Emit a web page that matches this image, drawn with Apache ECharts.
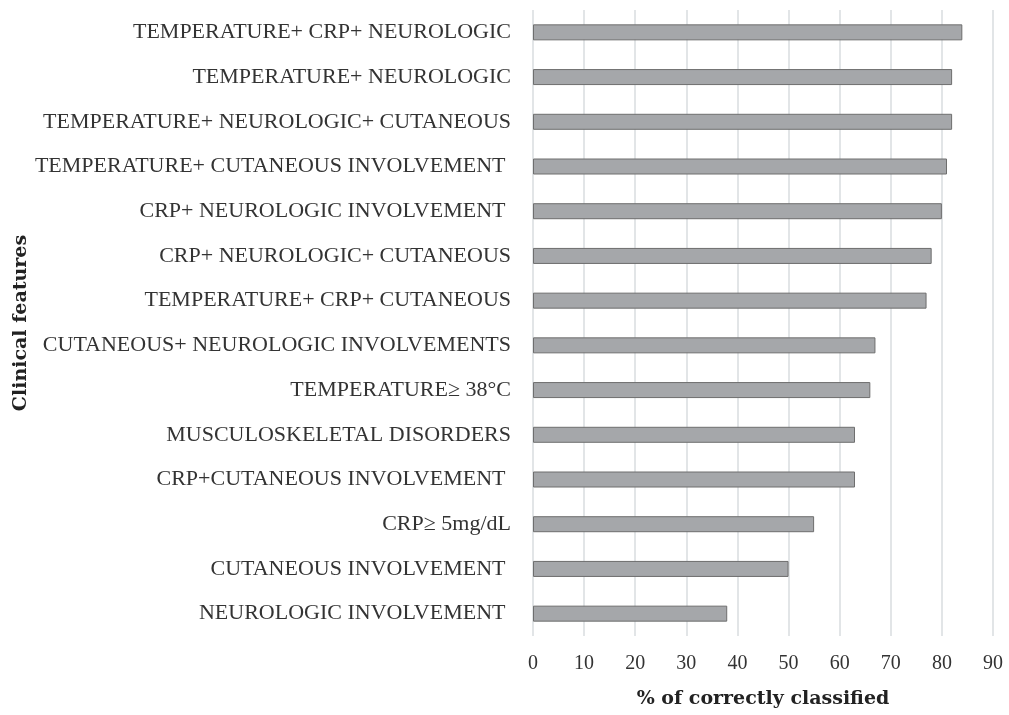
<!DOCTYPE html>
<html>
<head>
<meta charset="utf-8">
<script src="https://cdn.jsdelivr.net/npm/echarts@6/dist/echarts.min.js"></script>
<style>
  html, body { margin: 0; padding: 0; background: #fff; }
  #main { width: 1009px; height: 715px; }
</style>
</head>
<body>
<div id="main"></div>
<script>
  // categories from bottom to top (category axis draws the first one at the bottom)
  var features = [
    'NEUROLOGIC INVOLVEMENT ',
    'CUTANEOUS INVOLVEMENT ',
    'CRP\u2265 5mg/dL',
    'CRP+CUTANEOUS INVOLVEMENT ',
    'MUSCULOSKELETAL DISORDERS',
    'TEMPERATURE\u2265 38\u00B0C',
    'CUTANEOUS+ NEUROLOGIC INVOLVEMENTS',
    'TEMPERATURE+ CRP+ CUTANEOUS',
    'CRP+ NEUROLOGIC+ CUTANEOUS',
    'CRP+ NEUROLOGIC INVOLVEMENT ',
    'TEMPERATURE+ CUTANEOUS INVOLVEMENT ',
    'TEMPERATURE+ NEUROLOGIC+ CUTANEOUS',
    'TEMPERATURE+ NEUROLOGIC',
    'TEMPERATURE+ CRP+ NEUROLOGIC'
  ];
  var pctCorrect = [38, 50, 55, 63, 63, 66, 67, 77, 78, 80, 81, 82, 82, 84];

  var serif = '"Liberation Serif", "DejaVu Serif", serif';
  var boldSerif = '"DejaVu Serif", serif';
  var chart = echarts.init(document.getElementById('main'));

  chart.setOption({
    animation: false,
    grid: { left: 533, right: 16, top: 10, bottom: 79, containLabel: false },
    xAxis: {
      type: 'value',
      min: 0,
      max: 90,
      interval: 10,
      name: '% of correctly classified',
      nameLocation: 'middle',
      nameGap: 54,
      nameTextStyle: { fontFamily: boldSerif, fontSize: 19, fontWeight: 'bold', color: '#222' },
      axisLine: { show: false },
      axisTick: { show: false },
      axisLabel: { fontFamily: serif, fontSize: 20, color: '#333', margin: 18 },
      splitLine: { show: true, lineStyle: { color: '#d9dcdf', width: 1.5 } }
    },
    yAxis: {
      type: 'category',
      data: features,
      name: 'Clinical features',
      nameLocation: 'middle',
      nameGap: 502,
      nameRotate: 90,
      nameTextStyle: { fontFamily: boldSerif, fontSize: 19, fontWeight: 'bold', color: '#222' },
      axisLine: { show: false },
      axisTick: { show: false },
      axisLabel: { fontFamily: serif, fontSize: 22, color: '#333', margin: 22 }
    },
    series: [{
      type: 'bar',
      data: pctCorrect,
      barWidth: 16,
      itemStyle: { color: '#a5a7aa', borderColor: '#6e6e6e', borderWidth: 1 }
    }]
  });
</script>
</body>
</html>
